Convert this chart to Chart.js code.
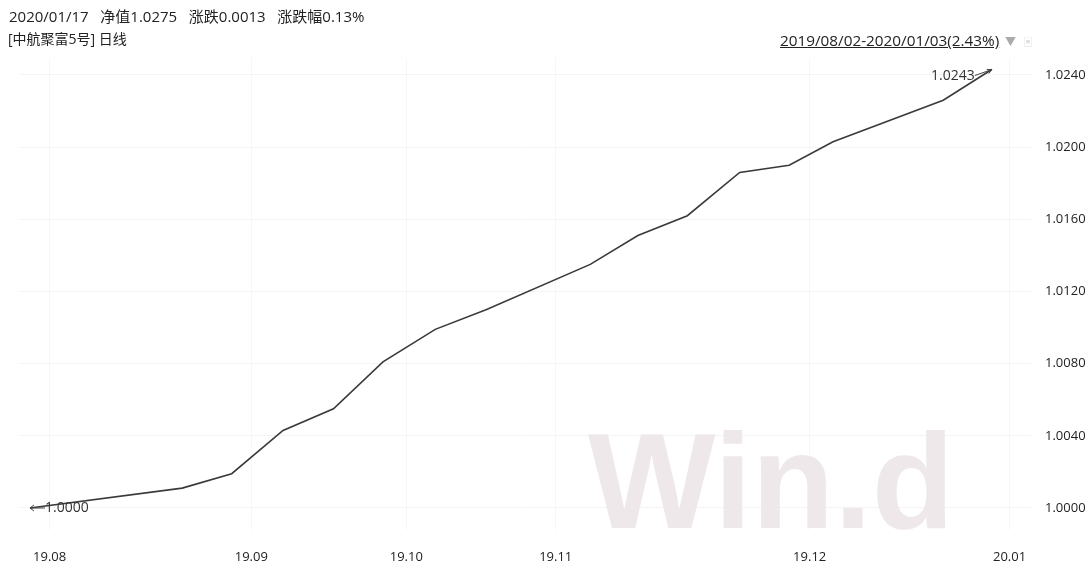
<!DOCTYPE html>
<html>
<head>
<meta charset="utf-8">
<script src="https://cdn.jsdelivr.net/npm/chart.js@4"></script>
<style>
  html, body { margin: 0; padding: 0; background: #fff; }
  #wrap { position: relative; width: 1091px; height: 565px; font-family: "Open Sans", "Noto Sans CJK SC", sans-serif; color: #222; }
  #c { position: absolute; left: 0; top: 0; }
  .t { position: absolute; white-space: pre; line-height: 1; }
</style>
</head>
<body>
<div id="wrap">
  <canvas id="c" width="1091" height="565"></canvas>
  <div class="t" style="left:9px;top:9px;font-size:15px">2020/01/17   净值1.0275   涨跌0.0013   涨跌幅0.13%</div>
  <div class="t" style="left:8px;top:32px;font-size:14px">[中航聚富5号] 日线</div>
  <div class="t" style="left:780px;top:33px;font-size:15.3px;text-decoration:underline">2019/08/02-2020/01/03(2.43%)</div>
  <div class="t" style="left:1005px;top:36px;font-size:11px;color:#aaa">▼</div>
  <div class="t" style="left:1023px;top:37px;font-size:10px;color:#ddd">▣</div>
</div>
<script>
// 中航聚富5号 净值走势 (trading-day index since 2019/08/02)
const dayIdx    = [0, 16.3, 21.6, 27.1, 32.5, 37.8, 43.4, 48.9, 60, 65.1, 70.4, 76, 81.3, 86, 97.8, 103];
const navValues = [1.0000, 1.0011, 1.0019, 1.0043, 1.0055, 1.0081, 1.0099, 1.0110, 1.0135, 1.0151, 1.0162, 1.0186, 1.0190, 1.0203, 1.0226, 1.0243];

const monthLabels = ['19.08', '19.09', '19.10', '19.11', '19.12', '20.01'];
const monthPos    = [2.1, 23.7, 40.3, 56.3, 83.5, 104.9];
const yTicks      = [1.0000, 1.0040, 1.0080, 1.0120, 1.0160, 1.0200, 1.0240];

const FONT = '"Open Sans", "Noto Sans CJK SC", sans-serif';

const watermark = {
  id: 'watermark',
  beforeDatasetsDraw(chart) {
    const ctx = chart.ctx;
    ctx.save();
    ctx.font = 'bold 135px "Liberation Sans", Arial, sans-serif';
    ctx.fillStyle = '#efe8ea';
    ctx.textBaseline = 'alphabetic';
    ctx.fillText('Win.d', 588, 528);
    ctx.restore();
  }
};

const endLabels = {
  id: 'endLabels',
  afterDatasetsDraw(chart) {
    const pts = chart.getDatasetMeta(0).data;
    const first = pts[0], last = pts[pts.length - 1];
    const ctx = chart.ctx;
    ctx.save();
    ctx.font = '14px ' + FONT;
    ctx.fillStyle = '#333';
    ctx.strokeStyle = '#444';
    ctx.lineWidth = 1;
    ctx.textBaseline = 'middle';
    // start label with left arrow
    ctx.textAlign = 'left';
    ctx.fillText(navValues[0].toFixed(4), first.x + 15, first.y);
    ctx.beginPath();
    ctx.moveTo(first.x + 15, first.y); ctx.lineTo(first.x, first.y);
    ctx.moveTo(first.x + 4, first.y - 3); ctx.lineTo(first.x, first.y); ctx.lineTo(first.x + 4, first.y + 3);
    ctx.stroke();
    // end label with arrow pointing to last point
    ctx.textAlign = 'right';
    const tx = last.x - 17, ty = last.y + 6;
    ctx.fillText(navValues[navValues.length - 1].toFixed(4), tx, ty);
    ctx.beginPath();
    ctx.moveTo(tx, ty); ctx.lineTo(last.x, last.y);
    ctx.moveTo(last.x - 5, last.y); ctx.lineTo(last.x, last.y); ctx.lineTo(last.x - 3, last.y + 4);
    ctx.stroke();
    ctx.restore();
  }
};

new Chart(document.getElementById('c'), {
  type: 'line',
  data: {
    datasets: [{
      data: dayIdx.map((d, i) => ({ x: d, y: navValues[i] })),
      borderColor: '#3a3a3a',
      borderWidth: 1.6,
      pointRadius: 0,
      tension: 0,
      fill: false
    }]
  },
  options: {
    responsive: false,
    animation: false,
    layout: { padding: { top: 58, left: 20, right: 0, bottom: 0 } },
    plugins: { legend: { display: false }, tooltip: { enabled: false } },
    scales: {
      x: {
        type: 'linear',
        min: -1.07,
        max: 107.2,
        afterBuildTicks: s => { s.ticks = monthPos.map(v => ({ value: v })); },
        afterFit: s => { s.height = 35; },
        border: { display: false },
        grid: { color: '#f7f7f7', drawTicks: false, lineWidth: 1 },
        ticks: {
          autoSkip: false, maxRotation: 0, padding: 19,
          color: '#222', font: { size: 13, family: FONT },
          callback: (v, i) => monthLabels[i]
        }
      },
      y: {
        position: 'right',
        min: 0.99878,
        max: 1.02494,
        afterBuildTicks: s => { s.ticks = yTicks.map(v => ({ value: v })); },
        afterFit: s => { s.width = 60; },
        border: { display: false },
        grid: { color: '#f4f4f4', drawTicks: false, lineWidth: 1 },
        ticks: {
          padding: 14, color: '#222', font: { size: 13, family: FONT },
          callback: v => v.toFixed(4)
        }
      }
    }
  },
  plugins: [watermark, endLabels]
});
</script>
</body>
</html>
